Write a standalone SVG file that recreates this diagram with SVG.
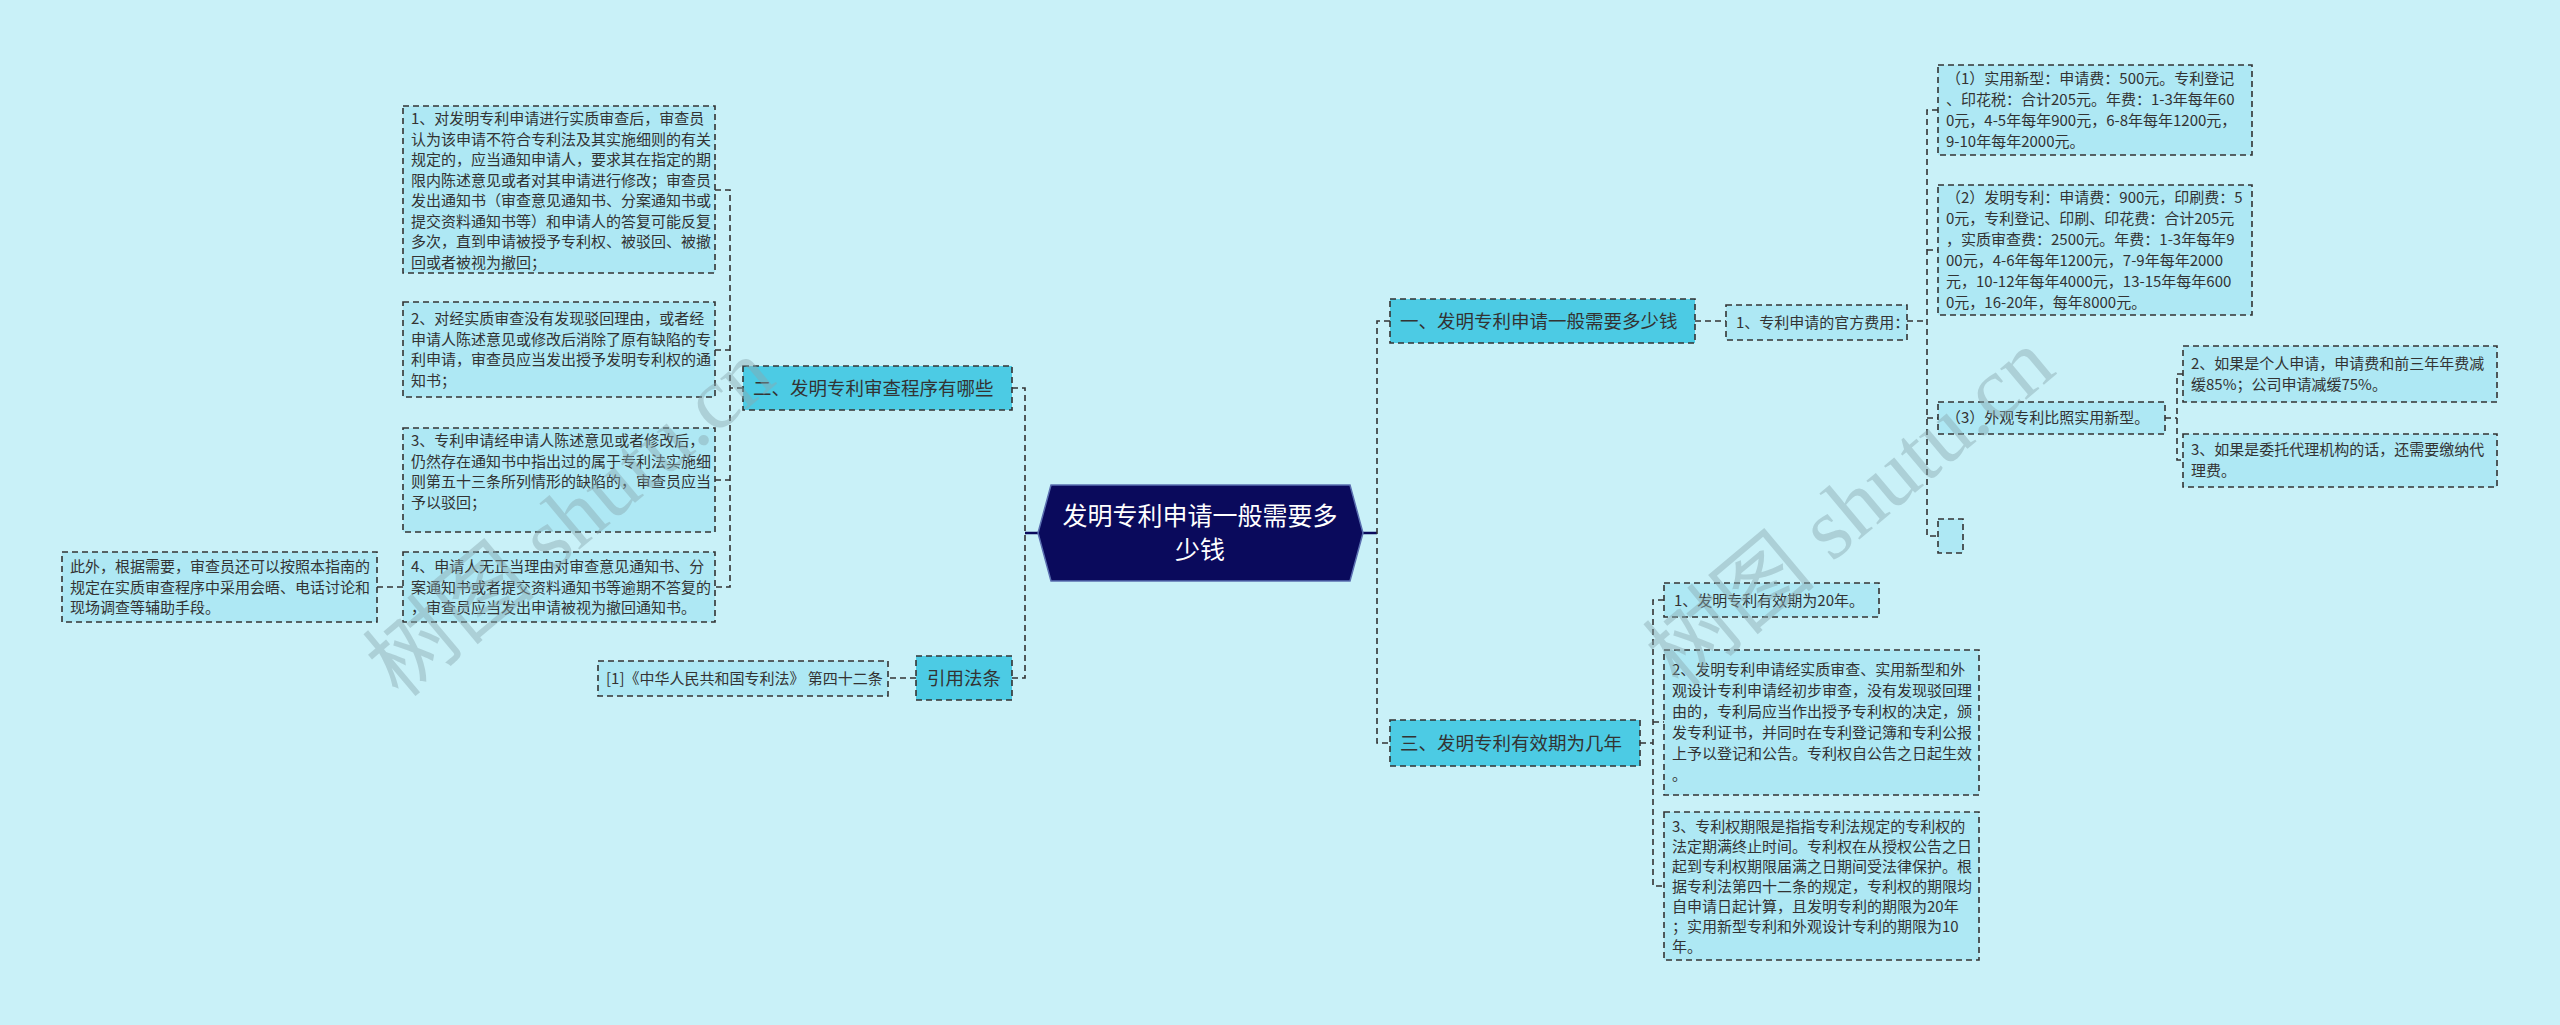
<svg xmlns="http://www.w3.org/2000/svg" width="2560" height="1025" viewBox="0 0 2560 1025">
<style>
text{font-family:"Noto Sans CJK SC","Liberation Sans",sans-serif;fill:#333}
.leaf{fill:#aee8f4;stroke:#333;stroke-width:1.6;stroke-dasharray:6 4}
.l1{fill:#4ccbe4;stroke:#333;stroke-width:1.6;stroke-dasharray:6 4}
.t{font-size:15px}
.t1{font-size:18.5px}
.c{fill:none;stroke:#333;stroke-width:1.6;stroke-dasharray:6 4}
.wm{font-family:"Liberation Serif","Noto Sans CJK SC",serif;font-size:88px;fill:#8aa9b0;opacity:0.45}
</style>
<rect width="2560" height="1025" fill="#c9f1f8"/>
<g id="connectors">
<path d="M1363 533H1377M1025 533H1038" stroke="#0a0a5c" stroke-width="2.5" fill="none"/>
<path class="c" d="M1390 321H1377V743H1390"/>
<path class="c" d="M1012 388H1025V678H1012"/>
<path class="c" d="M743 388H730M715 190H730V587H715M715 350H730M715 480H730"/>
<path class="c" d="M403 587H377"/>
<path class="c" d="M916 678H888"/>
<path class="c" d="M1695 321H1726"/>
<path class="c" d="M1907 321H1927M1938 110H1927V536H1938M1927 250H1938M1927 418H1938"/>
<path class="c" d="M2165 418H2177M2183 374H2177V460H2183"/>
<path class="c" d="M1640 743H1653M1664 600H1653V886H1664M1653 722H1664"/>
</g>
<g id="root">
<polygon points="1038,533 1051,485 1350,485 1363,533 1350,581 1051,581" fill="#0a0a5c" stroke="#5a6fb0" stroke-width="1.5"/>
<text x="1200" y="525" text-anchor="middle" style="font-size:25px;fill:#fff">发明专利申请一般需要多</text>
<text x="1200" y="559" text-anchor="middle" style="font-size:25px;fill:#fff">少钱</text>
</g>
<g id="n1"><rect class="l1" x="1390" y="299" width="305" height="44"/><text class="t1" x="1400" y="328">一、发明专利申请一般需要多少钱</text></g>
<g id="n1a"><rect class="leaf" x="1726" y="305" width="181" height="35"/><text class="t" x="1736" y="328">1、专利申请的官方费用：</text></g>
<g id="n1a1"><rect class="leaf" x="1938" y="65" width="314" height="90"/><text class="t" x="1946"><tspan x="1946" y="84">（1）实用新型：申请费：500元。专利登记</tspan><tspan x="1946" y="105">、印花税：合计205元。年费：1-3年每年60</tspan><tspan x="1946" y="126">0元，4-5年每年900元，6-8年每年1200元，</tspan><tspan x="1946" y="147">9-10年每年2000元。</tspan></text></g>
<g id="n1a2"><rect class="leaf" x="1938" y="185" width="314" height="130"/><text class="t"><tspan x="1946" y="203">（2）发明专利：申请费：900元，印刷费：5</tspan><tspan x="1946" y="224">0元，专利登记、印刷、印花费：合计205元</tspan><tspan x="1946" y="245">，实质审查费：2500元。年费：1-3年每年9</tspan><tspan x="1946" y="266">00元，4-6年每年1200元，7-9年每年2000</tspan><tspan x="1946" y="287">元，10-12年每年4000元，13-15年每年600</tspan><tspan x="1946" y="308">0元，16-20年，每年8000元。</tspan></text></g>
<g id="n1a3"><rect class="leaf" x="1938" y="402" width="227" height="32"/><text class="t" x="1946" y="423">（3）外观专利比照实用新型。</text></g>
<g id="n1a3a"><rect class="leaf" x="2183" y="346" width="314" height="56"/><text class="t"><tspan x="2191" y="369">2、如果是个人申请，申请费和前三年年费减</tspan><tspan x="2191" y="390">缓85%；公司申请减缓75%。</tspan></text></g>
<g id="n1a3b"><rect class="leaf" x="2183" y="434" width="314" height="53"/><text class="t"><tspan x="2191" y="455">3、如果是委托代理机构的话，还需要缴纳代</tspan><tspan x="2191" y="476">理费。</tspan></text></g>
<g id="n1a4"><rect class="leaf" x="1938" y="519" width="25" height="34"/></g>
<g id="n3"><rect class="l1" x="1390" y="720" width="250" height="46"/><text class="t1" x="1400" y="750">三、发明专利有效期为几年</text></g>
<g id="n3a"><rect class="leaf" x="1664" y="583" width="215" height="34"/><text class="t" x="1674" y="606">1、发明专利有效期为20年。</text></g>
<g id="n3b"><rect class="leaf" x="1664" y="650" width="315" height="145"/><text class="t"><tspan x="1672" y="675">2、发明专利申请经实质审查、实用新型和外</tspan><tspan x="1672" y="696">观设计专利申请经初步审查，没有发现驳回理</tspan><tspan x="1672" y="717">由的，专利局应当作出授予专利权的决定，颁</tspan><tspan x="1672" y="738">发专利证书，并同时在专利登记簿和专利公报</tspan><tspan x="1672" y="759">上予以登记和公告。专利权自公告之日起生效</tspan><tspan x="1672" y="780">。</tspan></text></g>
<g id="n3c"><rect class="leaf" x="1664" y="812" width="315" height="148"/><text class="t"><tspan x="1672" y="832">3、专利权期限是指指专利法规定的专利权的</tspan><tspan x="1672" y="852">法定期满终止时间。专利权在从授权公告之日</tspan><tspan x="1672" y="872">起到专利权期限届满之日期间受法律保护。根</tspan><tspan x="1672" y="892">据专利法第四十二条的规定，专利权的期限均</tspan><tspan x="1672" y="912">自申请日起计算，且发明专利的期限为20年</tspan><tspan x="1672" y="932">；实用新型专利和外观设计专利的期限为10</tspan><tspan x="1672" y="952">年。</tspan></text></g>
<g id="n2"><rect class="l1" x="743" y="366" width="269" height="44"/><text class="t1" x="753" y="395">二、发明专利审查程序有哪些</text></g>
<g id="n2a"><rect class="leaf" x="403" y="106" width="312" height="167"/><text class="t"><tspan x="411" y="124">1、对发明专利申请进行实质审查后，审查员</tspan><tspan x="411" y="144.5">认为该申请不符合专利法及其实施细则的有关</tspan><tspan x="411" y="165">规定的，应当通知申请人，要求其在指定的期</tspan><tspan x="411" y="185.5">限内陈述意见或者对其申请进行修改；审查员</tspan><tspan x="411" y="206">发出通知书（审查意见通知书、分案通知书或</tspan><tspan x="411" y="226.5">提交资料通知书等）和申请人的答复可能反复</tspan><tspan x="411" y="247">多次，直到申请被授予专利权、被驳回、被撤</tspan><tspan x="411" y="267.5">回或者被视为撤回；</tspan></text></g>
<g id="n2b"><rect class="leaf" x="403" y="302" width="312" height="95"/><text class="t"><tspan x="411" y="324">2、对经实质审查没有发现驳回理由，或者经</tspan><tspan x="411" y="344.5">申请人陈述意见或修改后消除了原有缺陷的专</tspan><tspan x="411" y="365">利申请，审查员应当发出授予发明专利权的通</tspan><tspan x="411" y="385.5">知书；</tspan></text></g>
<g id="n2c"><rect class="leaf" x="403" y="428" width="312" height="104"/><text class="t"><tspan x="411" y="446">3、专利申请经申请人陈述意见或者修改后，</tspan><tspan x="411" y="466.5">仍然存在通知书中指出过的属于专利法实施细</tspan><tspan x="411" y="487">则第五十三条所列情形的缺陷的，审查员应当</tspan><tspan x="411" y="507.5">予以驳回；</tspan></text></g>
<g id="n2d"><rect class="leaf" x="403" y="552" width="312" height="70"/><text class="t"><tspan x="411" y="572">4、申请人无正当理由对审查意见通知书、分</tspan><tspan x="411" y="592.5">案通知书或者提交资料通知书等逾期不答复的</tspan><tspan x="411" y="613">，审查员应当发出申请被视为撤回通知书。</tspan></text></g>
<g id="n2d1"><rect class="leaf" x="62" y="552" width="315" height="70"/><text class="t"><tspan x="70" y="572">此外，根据需要，审查员还可以按照本指南的</tspan><tspan x="70" y="592.5">规定在实质审查程序中采用会晤、电话讨论和</tspan><tspan x="70" y="613">现场调查等辅助手段。</tspan></text></g>
<g id="n4"><rect class="l1" x="916" y="656" width="96" height="44"/><text class="t1" x="964" y="685" text-anchor="middle">引用法条</text></g>
<g id="n4a"><rect class="leaf" x="598" y="661" width="290" height="35"/><text class="t" x="606" y="684">[1]《中华人民共和国专利法》 第四十二条</text></g>
<text class="wm" transform="translate(400,700) rotate(-40)">树图 shutu.cn</text>
<text class="wm" transform="translate(1680,690) rotate(-40)">树图 shutu.cn</text>
</svg>
